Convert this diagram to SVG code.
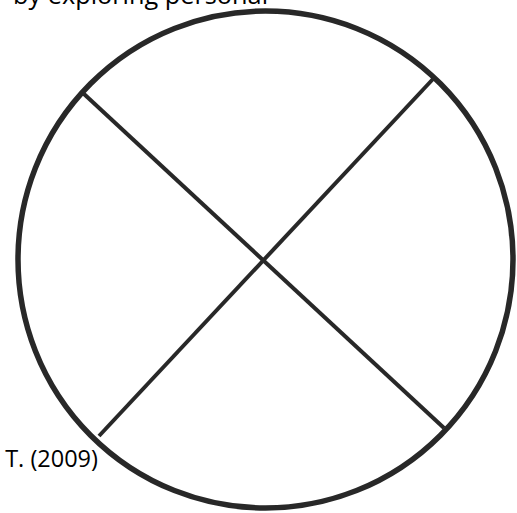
<svg xmlns="http://www.w3.org/2000/svg" width="517" height="513" viewBox="0 0 517 513">
<style>
.ln{stroke:#282828;fill:none;stroke-linecap:butt}
.txt{font-family:"Open Sans","Liberation Sans",sans-serif;fill:#000}
</style>
<rect width="517" height="513" fill="#ffffff"/>
<g id="circle"><ellipse class="ln" cx="265.5" cy="259.5" rx="247.5" ry="248.5" stroke-width="5.5"/></g>
<g id="connectors">
<line class="ln" x1="84" y1="94" x2="444" y2="428" stroke-width="4"/>
<line class="ln" x1="433" y1="79" x2="99" y2="436" stroke-width="4"/>
</g>
<g id="labels">
<text class="txt" x="13" y="4" font-size="25.3">by exploring personal</text>
<text class="txt" x="98" y="467" font-size="23.5" text-anchor="end">T. (2009)</text>
</g>
</svg>
